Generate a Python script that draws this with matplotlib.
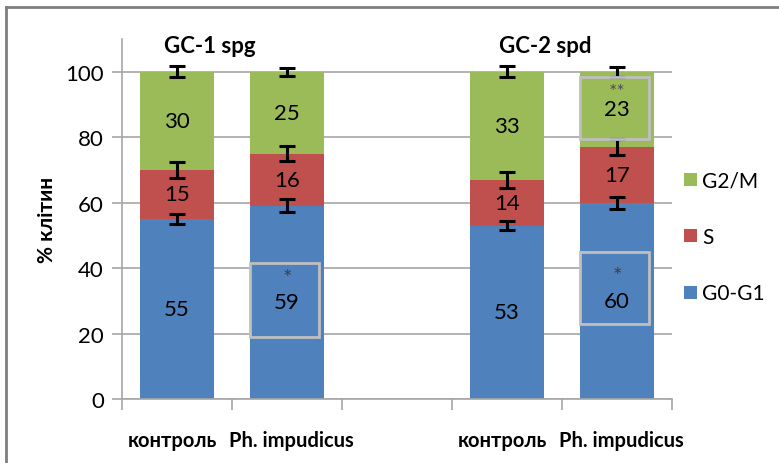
import matplotlib.pyplot as plt
from matplotlib.lines import Line2D
from matplotlib.patches import Rectangle

plt.rcParams['font.family'] = ['Lato', 'DejaVu Sans']

# categories on the x axis (the empty slot separates the two cell lines)
categories = ['контроль', 'Ph. impudicus', '', 'контроль', 'Ph. impudicus']
bar_pos = [0, 1, 3, 4]

g0g1 = [55, 59, 53, 60]
s_phase = [15, 16, 14, 17]
g2m = [30, 25, 33, 23]

err_g0g1 = [1.5, 2.0, 1.5, 1.8]
err_s = [2.5, 2.3, 2.5, 2.3]
err_g2m = [1.7, 1.2, 1.7, 1.5]

# significance marks over the labels
stars_g0g1 = ['', '*', '', '*']
stars_g2m = ['', '', '', '**']

cell_lines = ['GC-1 spg', 'GC-2 spd']

blue = '#4F81BD'
red = '#C0504D'
green = '#9BBB59'
grid_grey = '#A6A6A6'

fig = plt.figure(figsize=(7.79, 4.64), dpi=100)
ax = fig.add_axes([122 / 779, 1 - 400 / 464, 550 / 779, 360 / 464])

w = 0.67
b_s = [a for a in g0g1]
b_g2m = [a + b for a, b in zip(g0g1, s_phase)]
ax.bar(bar_pos, g0g1, w, color=blue, label='G0-G1', zorder=2)
ax.bar(bar_pos, s_phase, w, bottom=b_s, color=red, label='S', zorder=2)
ax.bar(bar_pos, g2m, w, bottom=b_g2m, color=green, label='G2/M', zorder=2)

tops = [a + b + c for a, b, c in zip(g0g1, s_phase, g2m)]
ekw = dict(fmt='none', ecolor='black', elinewidth=2.2, capsize=6, capthick=2.2, zorder=4)
ax.errorbar(bar_pos, g0g1, yerr=err_g0g1, **ekw)
ax.errorbar(bar_pos, b_g2m, yerr=err_s, **ekw)
ax.errorbar(bar_pos, tops, yerr=err_g2m, **ekw)

fs = 16
for i, x in enumerate(bar_pos):
    ax.text(x, g0g1[i] / 2, str(g0g1[i]), ha='center', va='center', fontsize=fs, zorder=5)
    ax.text(x, b_s[i] + s_phase[i] / 2, str(s_phase[i]), ha='center', va='center', fontsize=fs, zorder=5)
    ax.text(x, b_g2m[i] + g2m[i] / 2, str(g2m[i]), ha='center', va='center', fontsize=fs, zorder=5)
    if stars_g0g1[i]:
        ax.text(x, g0g1[i] / 2 + 7.5, stars_g0g1[i], ha='center', va='center',
                fontsize=16, color='#404040', zorder=5)
    if stars_g2m[i]:
        ax.text(x, b_g2m[i] + g2m[i] / 2 + 5.5, stars_g2m[i], ha='center', va='center',
                fontsize=14, color='#505050', zorder=5)

# grey frames round the significant values
frames = [(1, 19, 41.6), (4, 23, 45), (4, 79.5, 98.5)]
for x, y0, y1 in frames:
    ax.add_patch(Rectangle((x - w / 2, y0), w - 0.04, y1 - y0, fill=False,
                           edgecolor='#BFBFBF', lw=2, zorder=6))

ax.set_xlim(-0.5, 4.5)
ax.set_ylim(0, 110)
ax.set_yticks(range(0, 101, 20))
ax.yaxis.grid(True, color=grid_grey, lw=1.2, zorder=0)
ax.set_axisbelow(True)
ax.tick_params(axis='y', length=7, color=grid_grey, width=1.2, labelsize=fs, pad=6)

ax.set_xticks([i - 0.5 for i in range(6)])
ax.set_xticklabels([])
ax.tick_params(axis='x', length=8, color=grid_grey, width=1.2)
nudge = [-0.04, 0.04, 0, -0.04, 0.04]
for i, lab in enumerate(categories):
    ax.text(i + nudge[i], -12.5, lab, ha='center', va='center', fontsize=14.5, fontweight='bold')

for side in ['top', 'right']:
    ax.spines[side].set_visible(False)
ax.spines['left'].set_color(grid_grey)
ax.spines['bottom'].set_color(grid_grey)
ax.spines['left'].set_linewidth(1.2)
ax.spines['bottom'].set_linewidth(1.2)

ax.set_ylabel('% клітин', fontsize=fs - 1, fontweight='bold', labelpad=6)

ax.text(0.3, 108, cell_lines[0], ha='center', va='center', fontsize=fs, fontweight='bold')
ax.text(3.35, 108, cell_lines[1], ha='center', va='center', fontsize=fs, fontweight='bold')

handles, labels = ax.get_legend_handles_labels()
fig.legend(handles[::-1], labels[::-1], loc='center left', bbox_to_anchor=(680 / 779, 1 - 238 / 464),
           frameon=False, fontsize=15, handlelength=0.6, handleheight=0.6, handletextpad=0.25,
           labelspacing=1.75, borderpad=0.2, borderaxespad=0)

# outer frame of the chart area
fig.add_artist(Line2D([6 / 779, 6 / 779], [0, 1 - 8 / 464], color='#7F7F7F', lw=2))
fig.add_artist(Line2D([6 / 779, 1], [1 - 8 / 464, 1 - 8 / 464], color='#7F7F7F', lw=2))

fig.savefig('out.png', dpi=100)
